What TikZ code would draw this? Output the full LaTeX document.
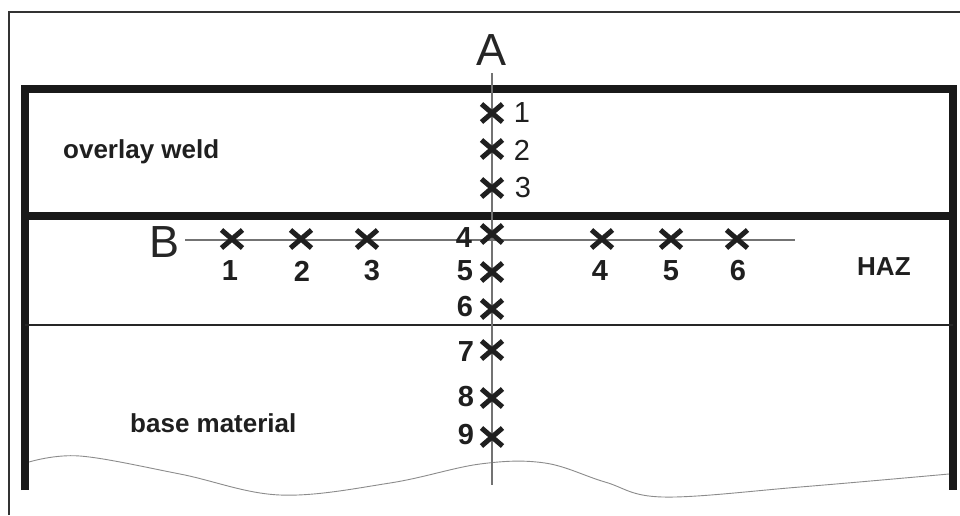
\documentclass[tikz,border=0pt]{standalone}
\usepackage{fontspec}
\setmainfont{Liberation Sans}
\usetikzlibrary{shapes.misc}
\begin{document}
\begin{tikzpicture}[x=1pt,y=-1pt,
  xmark/.style={cross out, draw=black!88, line width=5pt, minimum width=16pt, minimum height=13pt, inner sep=0pt},
  num/.style={font=\fontsize{29}{29}\selectfont\bfseries, text=black!88, inner sep=0pt},
  numreg/.style={font=\fontsize{29}{29}\selectfont, text=black!88, inner sep=0pt},
  region/.style={font=\fontsize{26}{26}\selectfont\bfseries, text=black!88, inner sep=0pt, anchor=base west},
  axislabel/.style={font=\fontsize{45}{45}\selectfont, text=black!85, inner sep=0pt, anchor=base},
  axis/.style={draw=black!55, line width=1.1pt},
  wall/.style={draw=black!90, line width=8pt},
  frame/.style={draw=black!80, line width=2pt}]
\useasboundingbox (0,0) rectangle (960,515);
\fill[white] (0,0) rectangle (960,515);
% outer frame
\draw[frame] (9,515) -- (9,12) -- (960,12);
% thick walls
\draw[wall] (25,490) -- (25,89) -- (953,89) -- (953,490);
\draw[wall] (25,216) -- (953,216);
\draw[draw=black!85, line width=2.2pt] (25,325) -- (953,325);
% wavy break line
\draw[draw=black!45, line width=0.9pt] plot[smooth, tension=0.6] coordinates {(29,462) (80,456) (180,474) (280,495) (390,483) (480,464) (545,463) (605,482) (663,497) (800,487) (949,474)};
% axes
\coordinate (Atop) at (492,73);
\coordinate (Abot) at (492,485);
\coordinate (Bleft) at (185,240);
\coordinate (Bright) at (795,240);
\draw[axis] (Atop) -- (Abot);
\draw[axis] (Bleft) -- (Bright);
\node[axislabel] (A) at (491,65) {A};
\node[axislabel] (B) at (165,257) {B};
% crosses along A
\node[xmark] (a1) at (492,113) {};
\node[xmark] (a2) at (492,149) {};
\node[xmark] (a3) at (492,188) {};
\node[xmark] (a4) at (492,234) {};
\node[xmark] (a5) at (492,272) {};
\node[xmark] (a6) at (492,309) {};
\node[xmark] (a7) at (492,350) {};
\node[xmark] (a8) at (492,398) {};
\node[xmark] (a9) at (492,437) {};
\node[numreg] (la1) at (522,113) {1};
\node[numreg] (la2) at (522,150) {2};
\node[numreg] (la3) at (523,188) {3};
\node[num] (la4) at (464,238) {4};
\node[num] (la5) at (465,271) {5};
\node[num] (la6) at (465,307) {6};
\node[num] (la7) at (466,352) {7};
\node[num] (la8) at (466,397) {8};
\node[num] (la9) at (466,435) {9};
% crosses along B
\node[xmark] (b1) at (232,239) {};
\node[xmark] (b2) at (301,239) {};
\node[xmark] (b3) at (367,239) {};
\node[xmark] (b4) at (602,239) {};
\node[xmark] (b5) at (671,239) {};
\node[xmark] (b6) at (737,239) {};
\node[num] (lb1) at (230,271) {1};
\node[num] (lb2) at (302,271) {2};
\node[num] (lb3) at (372,271) {3};
\node[num] (lb4) at (600,271) {4};
\node[num] (lb5) at (671,271) {5};
\node[num] (lb6) at (738,271) {6};
% region labels
\node[region] (ow) at (63,158) {overlay weld};
\node[region] (haz) at (857,275) {HAZ};
\node[region] (bm) at (130,432) {base material};
\end{tikzpicture}
\end{document}
